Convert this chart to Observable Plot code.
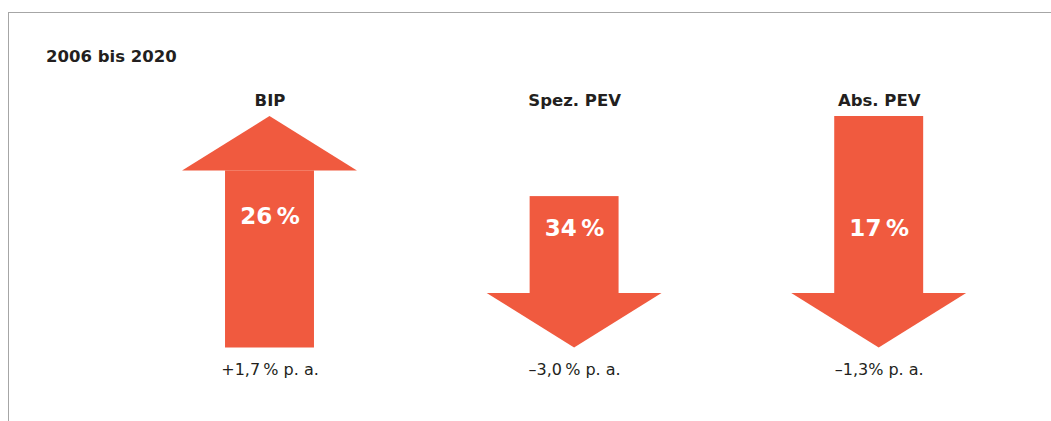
<!DOCTYPE html>
<html>
<head>
<meta charset="utf-8">
<script src="https://cdn.jsdelivr.net/npm/d3@7"></script>
<script src="https://cdn.jsdelivr.net/npm/@observablehq/plot@0.6"></script>
<style>
  html, body { margin: 0; padding: 0; background: #fff; }
  #wrap { position: relative; width: 1051px; height: 421px; overflow: hidden; font-family: "DejaVu Sans", sans-serif; }
  #frame { position: absolute; left: 8px; top: 12px; right: -2px; bottom: -2px; border-top: 1px solid #a6a6a6; border-left: 1.5px solid #a6a6a6; }
  #title { position: absolute; left: 46px; top: 47px; line-height: 20px; font-size: 16.5px; font-weight: bold; color: #231f20; }
  #chart { position: absolute; left: 0; top: 0; }
</style>
</head>
<body>
<div id="wrap">
  <div id="frame"></div>
  <div id="title">2006 bis 2020</div>
  <div id="chart"></div>
</div>
<script>
// ---- data ----
const title = "2006 bis 2020";
const categories = ["BIP", "Spez. PEV", "Abs. PEV"];
const totalChange = [26, 34, 17];                 // % over 2006–2020
const direction = [1, -1, -1];                    // up = increase, down = decrease
const perAnnumLabels = ["+1,7\u2009% p.\u00a0a.", "–3,0\u2009% p.\u00a0a.", "–1,3% p.\u00a0a."];
const arrowLength = [100, 65.4, 100];             // schematic arrow length (relative units)

// ---- geometry constants (style) ----
const COLOR = "#f05a3f";
const SHAFT_HALF = 0.146;
const HEAD_HALF = 0.287;
const HEAD_LEN = 23.5;

const arrows = categories.map((c, i) => ({
  cat: c, i, dir: direction[i], len: arrowLength[i],
  pct: totalChange[i] + "\u2009%", pa: perAnnumLabels[i]
}));

const shafts = arrows.map(a => a.dir > 0
  ? {cat: a.cat, x1: a.i - SHAFT_HALF, x2: a.i + SHAFT_HALF, y1: 0, y2: a.len - HEAD_LEN}
  : {cat: a.cat, x1: a.i - SHAFT_HALF, x2: a.i + SHAFT_HALF, y1: HEAD_LEN, y2: a.len});

const heads = arrows.flatMap(a => {
  const base = a.dir > 0 ? a.len - HEAD_LEN : HEAD_LEN;
  const tip = a.dir > 0 ? a.len : 0;
  return [
    {cat: a.cat, x: a.i - HEAD_HALF, y1: base, y2: base},
    {cat: a.cat, x: a.i, y1: base, y2: tip},
    {cat: a.cat, x: a.i + HEAD_HALF, y1: base, y2: base}
  ];
});

const chart = Plot.plot({
  width: 1051,
  height: 421,
  margin: 0,
  style: {fontFamily: "DejaVu Sans, sans-serif", background: "transparent", overflow: "visible"},
  x: {domain: [0, 2], range: [269.5, 878.7], axis: null},
  y: {domain: [0, 100], range: [347.5, 116], axis: null},
  marks: [
    Plot.rect(shafts, {x1: "x1", x2: "x2", y1: "y1", y2: "y2", fill: COLOR}),
    Plot.areaY(heads, {x: "x", y1: "y1", y2: "y2", z: "cat", fill: COLOR}),
    Plot.text(arrows, {x: "i", y: 107, text: "cat", fontSize: 16.5, fontWeight: "bold", fill: "#231f20"}),
    Plot.text(arrows, {x: "i", y: a => a.dir > 0 ? 56.8 : 51.6, text: "pct", fontSize: 23, fontWeight: "bold", fill: "#ffffff"}),
    Plot.text(arrows, {x: "i", y: -9.3, text: "pa", fontSize: 16, fill: "#231f20"})
  ]
});
document.getElementById("chart").appendChild(chart);
</script>
</body>
</html>
